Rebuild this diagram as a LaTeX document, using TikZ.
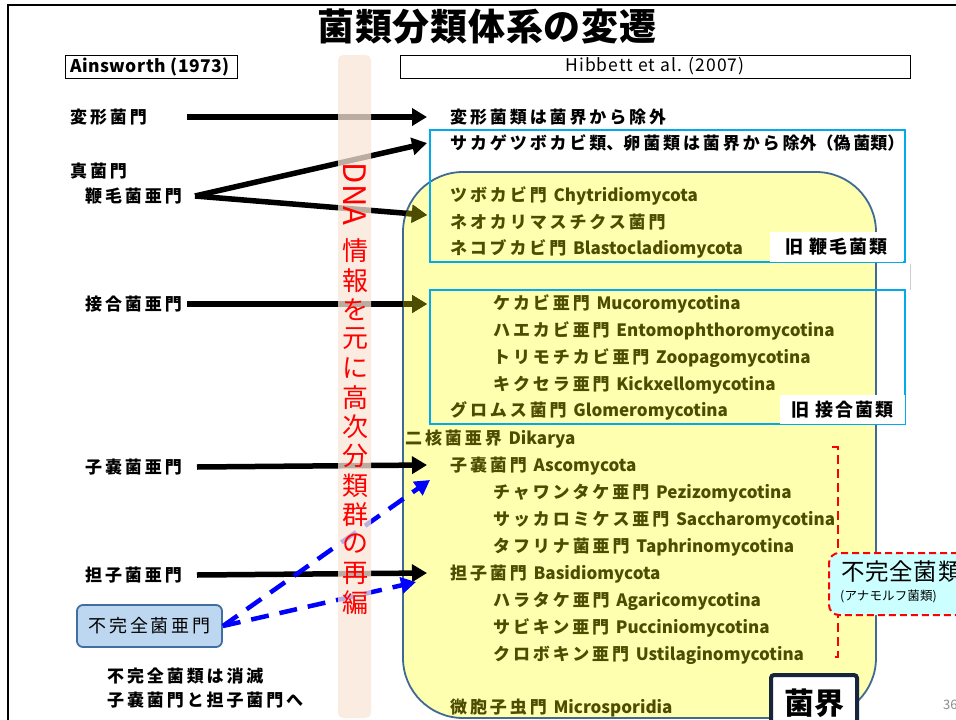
\documentclass[tikz,border=0pt]{standalone}
\usepackage{fontspec}
\setmainfont{Noto Sans CJK JP}
\usetikzlibrary{arrows.meta}
\definecolor{olivetxt}{RGB}{78,76,0}
\definecolor{yelfill}{RGB}{255,255,176}
\definecolor{yelborder}{RGB}{65,105,150}
\definecolor{cyanbox}{RGB}{0,170,235}
\definecolor{peach}{RGB}{250,230,215}
\definecolor{lightblue}{RGB}{189,215,240}
\definecolor{bluebord}{RGB}{65,110,160}
\definecolor{navy}{RGB}{22,36,60}
\definecolor{lcyan}{RGB}{204,255,255}
\newcommand\lat[1]{{\addfontfeature{LetterSpace=0}#1}}
\tikzset{
  lbl/.style={anchor=west,inner sep=0pt,font=\fontsize{17}{20}\selectfont\bfseries\addfontfeature{LetterSpace=17}},
  rtb/.style={anchor=west,inner sep=0pt,font=\fontsize{17}{20}\selectfont\bfseries\addfontfeature{LetterSpace=17}},
  rto/.style={anchor=west,inner sep=0pt,text=olivetxt,font=\fontsize{17}{20}\selectfont\bfseries\addfontfeature{LetterSpace=17}},
  arr/.style={line width=5.5pt,-{Triangle[length=15pt,width=17pt]}},
  bdash/.style={blue,line width=4.5pt,dash pattern=on 18pt off 11pt,-{Triangle[length=15pt,width=16pt]}},
  cyanrect/.style={draw=cyanbox,line width=1.5pt},
  oldlbl/.style={fill=white,inner sep=0pt,font=\fontsize{18}{20}\selectfont\bfseries\addfontfeature{LetterSpace=12}},
  vchar/.style={text=red,inner sep=0pt,font=\fontsize{26}{26}\selectfont},
}
\begin{document}
\begin{tikzpicture}[x=1pt,y=-1pt]
\useasboundingbox (0,0) rectangle (956,720);
\fill[white] (0,0) rectangle (956,720);
\draw[line width=1.5pt] (8,5) rectangle (980,740);

% yellow kingdom box
\path[fill=yelfill,draw=yelborder,line width=1.8pt,rounded corners=60pt] (403,172) rectangle (876,718);

% cyan rectangles
\draw[cyanrect] (430,130) rectangle (905,262);
\draw[cyanrect] (430,290) rectangle (905,424);
\node[oldlbl,minimum width=133pt,minimum height=30pt] (old1) at (836.5,247) {旧 鞭毛菌類};
\node[oldlbl,minimum width=125pt,minimum height=29pt] (old2) at (842.5,409.5) {旧 接合菌類};
\draw[black!20,line width=1pt] (910,264) -- (910,290);

% title and headers
\node[inner sep=0pt,font=\fontsize{37}{40}\selectfont\bfseries\addfontfeature{LetterSpace=2}] (title) at (487,27) {菌類分類体系の変遷};
\node[draw,line width=1pt,minimum width=172pt,minimum height=23pt,inner sep=0pt] (ainsbox) at (151,66.5) {};
\node[anchor=west,inner sep=0pt,font=\fontsize{17.5}{20}\selectfont\bfseries\addfontfeature{LetterSpace=3}] (ains) at (70,67) {Ainsworth (1973)};
\node[draw,line width=1pt,minimum width=510pt,minimum height=23pt,inner sep=0pt,font=\fontsize{17.5}{20}\selectfont\addfontfeature{LetterSpace=6}] (hib) at (655,66.5) {Hibbett et al. (2007)};

% left labels
\node[lbl] (l1) at (70,117) {変形菌門};
\node[lbl] (l2) at (70,171) {真菌門};
\node[lbl] (l3) at (85,196) {鞭毛菌亜門};
\node[lbl] (l4) at (85,304) {接合菌亜門};
\node[lbl] (l5) at (85,467) {子嚢菌亜門};
\node[lbl] (l6) at (85,575) {担子菌亜門};
\node[draw=bluebord,fill=lightblue,line width=1.8pt,rounded corners=6pt,minimum width=145pt,minimum height=42pt,inner sep=0pt,font=\fontsize{18}{20}\selectfont\addfontfeature{LetterSpace=15}] (l7) at (149.5,626) {不完全菌亜門};
\node[lbl] (l8) at (107,676) {不完全菌類は消滅};
\node[lbl] (l9) at (107,700) {子嚢菌門と担子菌門へ};

% right texts
\node[rtb] (r1) at (450,117) {変形菌類は菌界から除外};
\node[rtb] (r2) at (450,143) {サカゲツボカビ類\lat{、}卵菌類は菌界から除\lat{外（}偽菌\lat{類）}};
\node[rto] (r3) at (450,196) {ツボカビ門 \lat{Chytridiomycota}};
\node[rto] (r4) at (450,222) {ネオカリマスチクス菌門};
\node[rto] (r5) at (450,249) {ネコブカビ門 \lat{Blastocladiomycota}};
\node[rto] (k1) at (493,304) {ケカビ亜門 \lat{Mucoromycotina}};
\node[rto] (k2) at (493,331) {ハエカビ亜門 \lat{Entomophthoromycotina}};
\node[rto] (k3) at (493,358) {トリモチカビ亜門 \lat{Zoopagomycotina}};
\node[rto] (k4) at (493,385) {キクセラ亜門 \lat{Kickxellomycotina}};
\node[rto] (k5) at (450,411) {グロムス菌門 \lat{Glomeromycotina}};
\node[rto] (d0) at (405,439) {二核菌亜界 \lat{Dikarya}};
\node[rto] (a0) at (450,466) {子嚢菌門 \lat{Ascomycota}};
\node[rto] (a1) at (493,493) {チャワンタケ亜門 \lat{Pezizomycotina}};
\node[rto] (a2) at (493,520) {サッカロミケス亜門 \lat{Saccharomycotina}};
\node[rto] (a3) at (493,547) {タフリナ菌亜門 \lat{Taphrinomycotina}};
\node[rto] (b0) at (450,574) {担子菌門 \lat{Basidiomycota}};
\node[rto] (b1) at (493,601) {ハラタケ亜門 \lat{Agaricomycotina}};
\node[rto] (b2) at (493,628) {サビキン亜門 \lat{Pucciniomycotina}};
\node[rto] (b3) at (493,655) {クロボキン亜門 \lat{Ustilaginomycotina}};
\node[rto] (m0) at (450,708) {微胞子虫門 \lat{Microsporidia}};

% black arrows
\coordinate (e1) at (427,215);
\coordinate (e2) at (427,304);
\coordinate (s1) at (187,117);
\coordinate (s3) at (195,196);
\coordinate (s4) at (187,304);
\coordinate (s5) at (197,467);
\coordinate (s6) at (197,575);
\draw[arr] (s1) -- ([xshift=-23pt]r1.west);
\draw[arr] (s3) -- ([xshift=-23pt]r2.west);
\draw[arr] (s3) -- (e1);
\draw[arr] (s4) -- (e2);
\draw[arr] (s5) -- ([xshift=-23pt,yshift=1pt]a0.west);
\draw[arr] (s6) -- ([xshift=-23pt,yshift=1pt]b0.west);
\begin{scope}
\clip[rounded corners=60pt] (403,172) rectangle (876,718);
\draw[arr,draw=olivetxt,fill=olivetxt] (s3) -- (e1);
\draw[arr,draw=olivetxt,fill=olivetxt] (s4) -- (e2);
\end{scope}

% blue dashed arrows
\coordinate (u1) at (430,480);
\coordinate (u2) at (416,582);
\draw[bdash] (l7.east) -- (u1);
\draw[bdash] (l7.east) -- (u2);

% DNA band
\fill[peach,opacity=0.75,rounded corners=5pt] (338,55) rectangle (371,718);
\node[vchar,rotate=-90,font=\fontsize{31}{31}\selectfont] (dna) at (355,194) {DNA};
\foreach \c [count=\i from 0] in {情,報,を,元,に,高,次,分,類,群,の,再,編}
  \node[vchar] (v\i) at (355,{251+\i*29.3}) {\c};

% red dashed bracket
\draw[red,line width=2pt,dash pattern=on 9pt off 5pt] (832,447) -- (838,447) -- (838,657) -- (831,657);
\node[draw=red,fill=lcyan,line width=2pt,dash pattern=on 7pt off 4pt,rounded corners=10pt,minimum width=150pt,minimum height=62pt,inner sep=0pt] (fuk) at (904,584) {};
\node[anchor=west,inner sep=0pt,font=\fontsize{23.5}{26}\selectfont\addfontfeature{LetterSpace=3}] (fuk1) at (841,572) {不完全菌類};
\node[anchor=west,inner sep=0pt,font=\fontsize{12.5}{14}\selectfont\addfontfeature{LetterSpace=1}] (fuk2) at (840,596) {(アナモルフ菌類)};

% kingdom label
\node[draw=navy,fill=white,line width=4pt,rounded corners=3pt,minimum width=86pt,minimum height=60pt,inner sep=0pt] (kbox) at (814,705) {};
\node[inner sep=0pt,font=\fontsize{30}{32}\selectfont\bfseries] (kai) at (814,703) {菌界};

\node[anchor=west,inner sep=0pt,text=black!45,font=\fontsize{13}{15}\selectfont] (pg) at (943,705) {36};
\end{tikzpicture}
\end{document}
